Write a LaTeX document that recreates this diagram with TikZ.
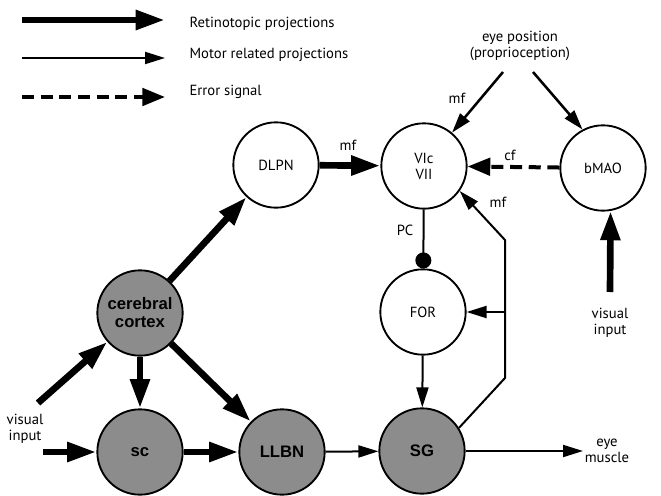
\documentclass[tikz,border=0pt]{standalone}
\usepackage{fontspec}
\setmainfont{PT Sans}
\newfontfamily\cellfont{Liberation Sans}
\usetikzlibrary{arrows.meta}
\usetikzlibrary{positioning}
\newcommand{\cellsize}{64pt}
\newcommand{\txtsize}{\fontsize{11}{12}\selectfont}
\newcommand{\celltxt}{\cellfont\bfseries\fontsize{12.5}{13.5}\selectfont}

\begin{document}
\begin{tikzpicture}[x=0.75pt, y=-0.75pt,
    cell/.style={circle, draw=black, line width=1.4pt, minimum size=\cellsize, inner sep=0pt, align=center, font=\txtsize},
    graycell/.style={cell, fill=black!45, font=\celltxt},
    retino/.style={line width=5pt, -{Triangle[length=22pt, width=14pt]}},
    motor/.style={line width=1.5pt},
    motorarrow/.style={motor, -{Triangle[length=15pt, width=9pt]}},
    error/.style={line width=3pt, dash pattern=on 9pt off 5pt, -{Triangle[length=17pt, width=13pt]}},
    lbl/.style={font=\txtsize, inner sep=1pt, align=center}]
	\useasboundingbox (0,0) rectangle (661,496);
	% Legend:
	\coordinate (retinoA) at (22,20);
	\coordinate (retinoB) at (165,20);
	\coordinate (motorA) at (22,58);
	\coordinate (motorB) at (165,58);
	\coordinate (errorA) at (22,97);
	\coordinate (errorB) at (165,97);
	\draw[retino] (retinoA) -- (retinoB);
	\draw[motorarrow] (motorA) -- (motorB);
	\draw[error] (errorA) -- (errorB);
	\node[lbl, anchor=base west] (retinoTxt) at (188,27) {Retinotopic projections};
	\node[lbl, anchor=base west] (motorTxt) at (188,58) {Motor related projections};
	\node[lbl, anchor=base west] (errorTxt) at (188,95) {Error signal};
	% Cells:
	\node[cell] (dlpn) at (276,165) {DLPN};
	\node[cell] (vic) at (424,166) {VIc\\VII};
	\node[cell] (bmao) at (603,168) {bMAO};
	\node[cell] (for) at (423,312) {FOR};
	\node[graycell] (cortex) at (140,313) {cerebral\\cortex};
	\node[graycell] (sc) at (140,452) {sc};
	\node[graycell] (llbn) at (282,452) {LLBN};
	\node[graycell] (sg) at (422,451) {SG};
	% Inputs and outputs:
	\node[lbl] (eyepos) at (520,46) {eye position\\(proprioception)};
	\node[lbl] (visLeft) at (25,429) {visual\\input};
	\node[lbl] (visRight) at (610,323) {visual\\input};
	\node[lbl] (muscleTxt) at (607,451) {eye\\muscle};
	\coordinate (eyeL) at (503,72);
	\coordinate (eyeR) at (533,72);
	\coordinate (vis1) at (38,403);
	\coordinate (vis2) at (43,452);
	\coordinate (visB) at (610,292);
	\coordinate (muscle) at (583,451);
	\coordinate (fbLow) at (505,378);
	\coordinate (fbHigh) at (505,240);
	% Retinotopic projections:
	\draw[retino] (vis1) -- (cortex);
	\draw[retino] (vis2) -- (sc);
	\draw[retino] (cortex) -- (dlpn);
	\draw[retino] (cortex) -- (sc);
	\draw[retino] (cortex) -- (llbn);
	\draw[retino] (sc) -- (llbn);
	\draw[retino] (dlpn) -- (vic);
	\draw[retino] (visB) -- (bmao.-80);
	% Motor related projections:
	\draw[motorarrow, line width=1.9pt] (eyeL) -- (vic);
	\draw[motorarrow, line width=1.9pt] (eyeR) -- (bmao.118);
	\draw[motorarrow] (llbn) -- (sg);
	\draw[motorarrow] (for) -- (sg);
	\draw[motorarrow] (sg) -- (muscle);
	\draw[motor, -{Circle[length=12pt]}] (vic) -- (for);
	\draw[motorarrow] (sg.32) -- (fbLow) -- (fbHigh) -- (vic.-35);
	\draw[motorarrow] (fbHigh |- for) -- (for);
	% Error signal:
	\draw[error] (bmao) -- (vic);
	% Labels:
	\node[lbl] (mfDlpn) at (348,145) {mf};
	\node[lbl] (mfEye) at (457,98) {mf};
	\node[lbl] (cfBmao) at (510,155) {cf};
	\node[lbl] (mfFb) at (498,202) {mf};
	\node[lbl] (pcVic) at (405,230) {PC};
\end{tikzpicture}
\end{document}
